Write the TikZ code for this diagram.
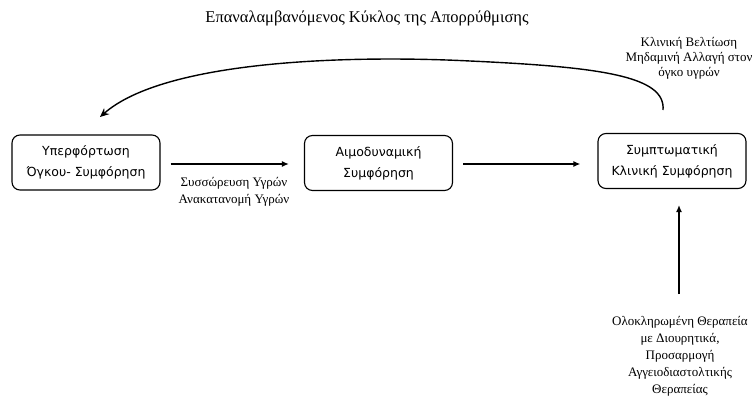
\documentclass[tikz,border=0pt]{standalone}
\usepackage{fontspec}
\setmainfont{Liberation Serif}
\newfontfamily\boxfont{DejaVu Sans}
\usetikzlibrary{arrows.meta}
\tikzset{
  box/.style={draw, line width=1.1pt, rounded corners=8pt, minimum width=148pt, minimum height=55pt,
    align=center, font=\boxfont\fontsize{12.5}{21}\selectfont, inner sep=0pt},
  lbl/.style={align=center, font=\fontsize{13}{17}\selectfont, inner sep=0pt},
  conn/.style={line width=1.4pt, -{Latex[length=7pt,width=6pt]}},
  curv/.style={line width=1.4pt, -{Stealth[length=9pt,width=8pt,inset=3pt]}}
}
\begin{document}
\begin{tikzpicture}[x=1pt,y=-1pt]
\useasboundingbox (0,0) rectangle (755,396);
\node[font=\fontsize{16.5}{19}\selectfont, inner sep=0pt] (title) at (367,18) {Επαναλαμβανόμενος Κύκλος της Απορρύθμισης};
\node[box] (b1) at (86,162.5) {Υπερφόρτωση\\Όγκου- Συμφόρηση};
\node[box] (b2) at (378.5,163) {Αιμοδυναμική\\Συμφόρηση};
\node[box] (b3) at (672,161) {Συμπτωματική\\Κλινική Συμφόρηση};
\node[lbl] (l1) at (234,192) {Συσσώρευση Υγρών\\Ανακατανομή Υγρών};
\node[lbl, font=\fontsize{13}{15}\selectfont] (l2) at (689,58) {Κλινική Βελτίωση\\Μηδαμινή Αλλαγή στον\\όγκο υγρών};
\node[lbl] (l3) at (680,356) {Ολοκληρωμένη Θεραπεία\\με Διουρητικά,\\Προσαρμογή\\Αγγειοδιαστολτικής\\Θεραπείας};
\draw[conn, shorten <=10pt, shorten >=15pt] (b1.east |- 0,164) -- (b2.west |- 0,164);
\draw[conn, shorten <=10pt, shorten >=17pt] (b2.east |- 0,164) -- (b3.west |- 0,164);
\coordinate (ustart) at (679,294);
\coordinate (uend) at (679,205);
\draw[conn] (ustart) -- (uend);
\coordinate (cstart) at (663,110);
\coordinate (cend) at (100,117);
\draw[curv] (cstart) .. controls (666,76) and (600,67) .. (470,61) .. controls (350,55) and (165,60) .. (cend);
\end{tikzpicture}
\end{document}
